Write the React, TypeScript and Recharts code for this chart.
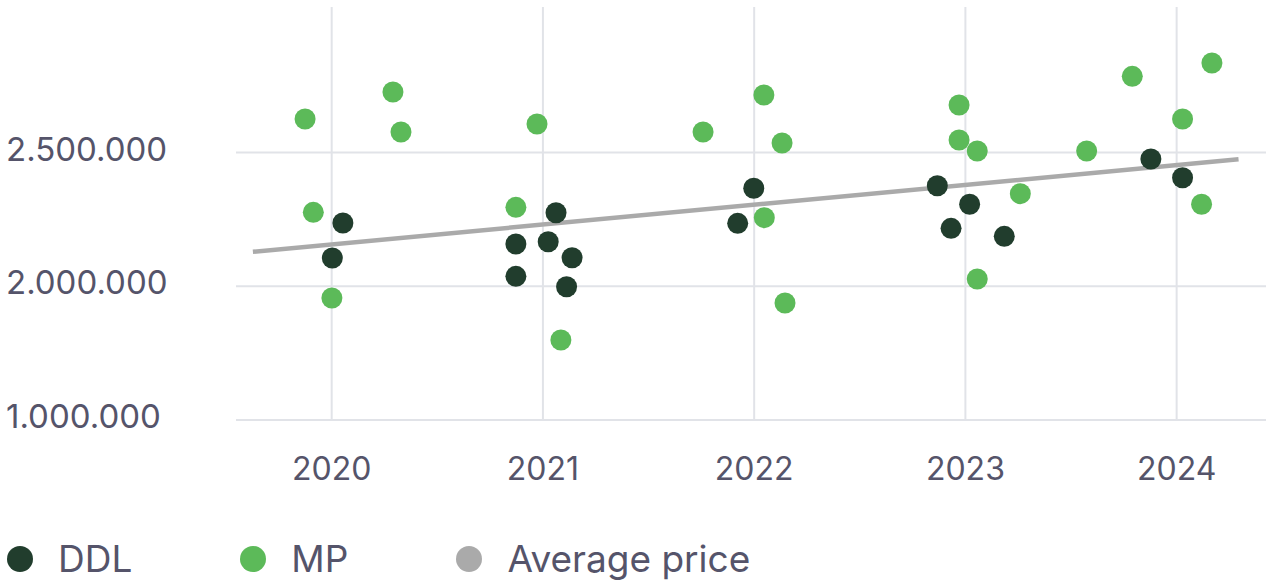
import React from "react";
import { ScatterChart, Scatter, XAxis, YAxis, CartesianGrid, Legend } from "recharts";

// ---- data ----
const ddlYears = [2020.053, 2020.003, 2020.872, 2020.872, 2021.025, 2021.062, 2021.138, 2021.112, 2021.922, 2021.998, 2022.867, 2022.932, 2023.02, 2023.184, 2023.878, 2024.028];
const ddlPrices = [2236400, 2105600, 2157900, 2037200, 2166500, 2274900, 2106700, 1998300, 2235300, 2366200, 2375900, 2216600, 2306400, 2186700, 2475700, 2405800];

const mpYears = [2019.874, 2019.913, 2020.001, 2020.29, 2020.328, 2020.872, 2020.972, 2021.085, 2021.758, 2022.046, 2022.048, 2022.132, 2022.146, 2022.97, 2022.97, 2023.056, 2023.056, 2023.26, 2023.574, 2023.79, 2024.167, 2024.028, 2024.118];
const mpPrices = [2625200, 2276400, 1956100, 2726200, 2576600, 2295100, 2606500, 1799100, 2576600, 2714900, 2256300, 2535500, 1937400, 2677600, 2546700, 2505600, 2027100, 2346000, 2505600, 2784800, 2834600, 2625200, 2306400];

const avgYears = [2019.627, 2024.293];
const avgPrices = [2128800, 2474600];

const xTicks = [2020, 2021, 2022, 2023, 2024];
const xTickLabels = ["2020", "2021", "2022", "2023", "2024"];
const yTicks = [1500000, 2000000, 2500000];
const yTickLabels = ["1.000.000", "2.000.000", "2.500.000"];

const seriesNames = ["DDL", "MP", "Average price"];
const seriesColors = ["#213d2d", "#5cba59", "#aaaaaa"];

const xDomain = [2019.547, 2024.423];
const yDomain = [1500000, 3043950];

const toPoints = (xs: number[], ys: number[]) => xs.map((x, i) => ({ x, y: ys[i] }));
const ddlData = toPoints(ddlYears, ddlPrices);
const mpData = toPoints(mpYears, mpPrices);
const avgData = toPoints(avgYears, avgPrices);

const FONT = "Inter, 'Noto Sans', sans-serif";
const TEXT = "#55546a";
const MARGIN = { top: 7, right: 0, bottom: 0, left: 0 };
const Y_AXIS_W = 236;
const X_AXIS_H = 80;
const LEGEND_H = 80;
const W = 1266;
const H = 580;

const plotBox = (offset: any) => {
  if (offset && typeof offset.top === "number" && typeof offset.height === "number") return offset;
  return {
    left: MARGIN.left + Y_AXIS_W,
    top: MARGIN.top,
    width: W - MARGIN.left - MARGIN.right - Y_AXIS_W,
    height: H - MARGIN.top - MARGIN.bottom - X_AXIS_H - LEGEND_H,
  };
};

const hGen = ({ offset }: any) => {
  const b = plotBox(offset);
  return yTicks.map((t) => b.top + (b.height * (yDomain[1] - t)) / (yDomain[1] - yDomain[0]));
};
const vGen = ({ offset }: any) => {
  const b = plotBox(offset);
  return xTicks.map((t) => b.left + (b.width * (t - xDomain[0])) / (xDomain[1] - xDomain[0]));
};

const XTick = (props: any) => {
  const { x, y, payload } = props;
  const idx = xTicks.indexOf(payload.value);
  return (
    <text x={x} y={y + 52} textAnchor="middle" fontFamily={FONT} fontSize={32} fill={TEXT}>
      {idx >= 0 ? xTickLabels[idx] : payload.value}
    </text>
  );
};

const YTick = (props: any) => {
  const { y, payload } = props;
  const idx = yTicks.indexOf(payload.value);
  return (
    <text x={6} y={y + 8} textAnchor="start" fontFamily={FONT} fontSize={33} fill={TEXT}>
      {idx >= 0 ? yTickLabels[idx] : payload.value}
    </text>
  );
};

const dot = (color: string) => (props: any) => (
  <circle cx={props.cx} cy={props.cy} r={10.5} fill={color} />
);

const LegendContent = () => (
  <div style={{ height: LEGEND_H, position: "relative", fontFamily: FONT }}>
    <div style={{ position: "absolute", top: 41, left: 7, display: "flex", alignItems: "center", height: 36 }}>
      {seriesNames.map((name, i) => (
        <div key={name} style={{ display: "flex", alignItems: "center", marginRight: 108 }}>
          <span style={{ width: 26, height: 26, borderRadius: 13, background: seriesColors[i], display: "inline-block", marginRight: 25 }} />
          <span style={{ fontSize: 37, lineHeight: "36px", color: TEXT, whiteSpace: "nowrap" }}>{name}</span>
        </div>
      ))}
    </div>
  </div>
);

export default function App() {
  return (
    <div style={{ width: W, height: H, background: "#fff" }}>
      <style>{"body{margin:0}"}</style>
      <ScatterChart width={W} height={H} margin={MARGIN}>
        <CartesianGrid
          stroke="#e1e3e8"
          strokeWidth={2}
          horizontalCoordinatesGenerator={hGen}
          verticalCoordinatesGenerator={vGen}
        />
        <XAxis
          type="number"
          dataKey="x"
          domain={xDomain}
          ticks={xTicks}
          allowDataOverflow
          axisLine={false}
          tickLine={false}
          height={X_AXIS_H}
          tick={<XTick />}
          interval={0}
        />
        <YAxis
          type="number"
          dataKey="y"
          domain={yDomain}
          ticks={yTicks}
          allowDataOverflow
          axisLine={false}
          tickLine={false}
          width={Y_AXIS_W}
          tick={<YTick />}
          interval={0}
        />
        <Legend verticalAlign="bottom" align="left" content={<LegendContent />} wrapperStyle={{ left: 0, bottom: 0, width: W }} />
        <Scatter
          name={seriesNames[2]}
          data={avgData}
          line={{ stroke: seriesColors[2], strokeWidth: 4.5 }}
          shape={() => <g />}
          isAnimationActive={false}
        />
        <Scatter name={seriesNames[1]} data={mpData} shape={dot(seriesColors[1])} isAnimationActive={false} />
        <Scatter name={seriesNames[0]} data={ddlData} shape={dot(seriesColors[0])} isAnimationActive={false} />
      </ScatterChart>
    </div>
  );
}
